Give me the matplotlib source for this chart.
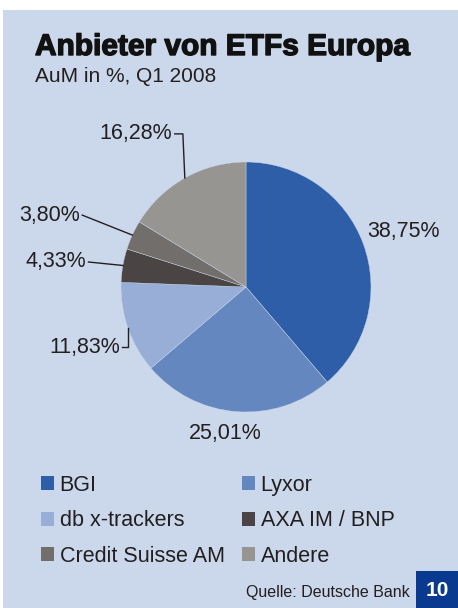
import matplotlib
matplotlib.use("Agg")
import matplotlib.pyplot as plt
from matplotlib.patches import Rectangle
import matplotlib.patheffects as pe
import numpy as np

plt.rcParams['font.family'] = ['Liberation Sans', 'DejaVu Sans']

categories = ["BGI", "Lyxor", "db x-trackers", "AXA IM / BNP", "Credit Suisse AM", "Andere"]
values = [38.75, 25.01, 11.83, 4.33, 3.80, 16.28]
value_labels = ["38,75%", "25,01%", "11,83%", "4,33%", "3,80%", "16,28%"]
colors = ["#2e5ea8", "#6587c0", "#98aed7", "#4a4544", "#716e6b", "#979592"]

W, H = 458, 608
fig = plt.figure(figsize=(W / 100, H / 100), dpi=100)
fig.patch.set_facecolor("white")

def fx(px):
    return px / W

def fy(py):
    return 1 - py / H

# background panel
fig.add_artist(Rectangle((fx(3), 0), 1 - fx(3), fy(10), transform=fig.transFigure,
                         facecolor="#cbd7ea", edgecolor="none", zorder=0))

TXT = "#231f20"
fig.text(fx(35), fy(47), "Anbieter von ETFs Europa", fontsize=21.5, fontweight="bold",
         color="#111111", va="center", ha="left",
         path_effects=[pe.withStroke(linewidth=1.0, foreground="#111111")])
fig.text(fx(35), fy(76), "AuM in %, Q1 2008", fontsize=15, color=TXT, va="center", ha="left")

# pie
cx, cy, r = 246, 287, 125
ax = fig.add_axes([fx(cx - r), fy(cy + r), 2 * r / W, 2 * r / H])
ax.set_facecolor("none")
wedges, _ = ax.pie(values, colors=colors, startangle=90, counterclock=False,
                   wedgeprops=dict(linewidth=0.3, edgecolor="#cbd7ea"))
ax.set_xlim(-1, 1)
ax.set_ylim(-1, 1)
ax.set_aspect("equal")
ax.axis("off")

# mid angles
total = sum(values)
cum = np.cumsum([0] + values[:-1])
mids = [(c + v / 2) / total * 360 for c, v in zip(cum, values)]
edge = [(np.sin(np.radians(m)), np.cos(np.radians(m))) for m in mids]

fs = 15.5
# BGI and Lyxor: no leader lines
ax.text(1.26, 0.44, value_labels[0], fontsize=fs, color=TXT, ha="center", va="center")
ax.text(-0.17, -1.17, value_labels[1], fontsize=fs, color=TXT, ha="center", va="center")

lw = 1.0
lc = "#231f20"
# db x-trackers
ex, ey = edge[2]
ax.plot([-0.99, ex, ex], [-0.48, -0.48, ey], color=lc, lw=lw, clip_on=False)
ax.text(-1.01, -0.48, value_labels[2], fontsize=fs, color=TXT, ha="right", va="center")
# AXA
ex, ey = edge[3]
ax.plot([-1.26, ex], [0.20, ey], color=lc, lw=lw, clip_on=False)
ax.text(-1.28, 0.20, value_labels[3], fontsize=fs, color=TXT, ha="right", va="center")
# Credit Suisse
ex, ey = edge[4]
ax.plot([-1.31, ex], [0.575, ey], color=lc, lw=lw, clip_on=False)
ax.text(-1.33, 0.575, value_labels[4], fontsize=fs, color=TXT, ha="right", va="center")
# Andere
ex, ey = edge[5]
ax.plot([-0.57, -0.505, ex], [1.225, 1.225, ey], color=lc, lw=lw, clip_on=False)
ax.text(-0.59, 1.225, value_labels[5], fontsize=fs, color=TXT, ha="right", va="center")

# legend, filled row-wise
order = [0, 2, 4, 1, 3, 5]
leg = fig.legend([wedges[i] for i in order], [categories[i] for i in order],
                 loc="upper left", bbox_to_anchor=(fx(41), fy(475)),
                 ncol=2, frameon=False, fontsize=fs, handlelength=0.62, handleheight=0.62,
                 handletextpad=0.25, columnspacing=0.8, labelspacing=0.67, borderpad=0,
                 borderaxespad=0, labelcolor=TXT)
for h in leg.legend_handles:
    h.set_edgecolor("none")

# footer
fig.text(fx(410), fy(593), "Quelle: Deutsche Bank", fontsize=11.5, color=TXT, ha="right", va="center")
fig.add_artist(Rectangle((fx(416), 0), 1 - fx(416), fy(571), transform=fig.transFigure,
                         facecolor="#0a3a8f", edgecolor="none", zorder=1))
fig.text(fx(437), fy(590), "10", fontsize=15, fontweight="bold", color="white",
         ha="center", va="center", zorder=2)

fig.savefig("out.png", dpi=100)
